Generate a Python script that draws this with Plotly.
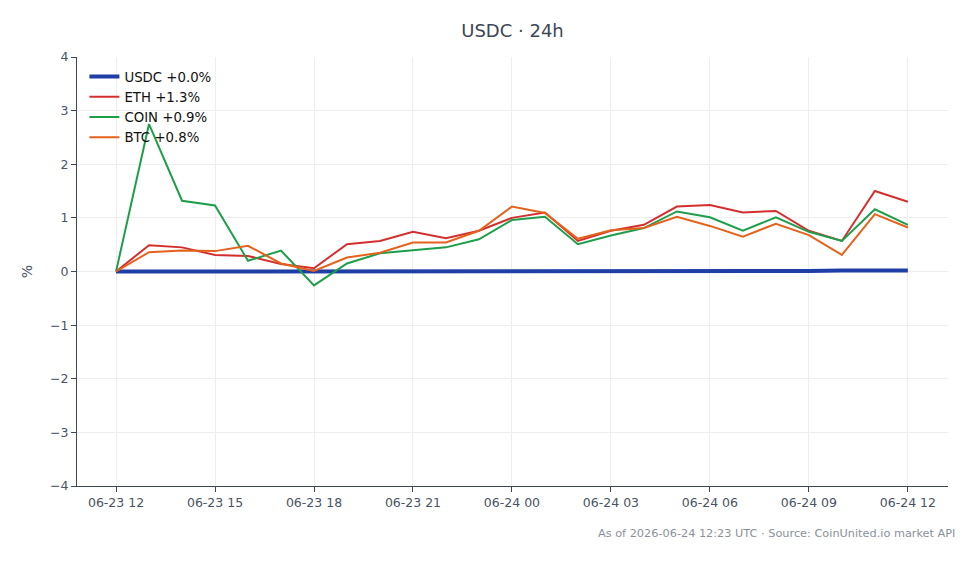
import plotly.graph_objects as go
import pandas as pd

times = pd.date_range("2026-06-23 12:00", "2026-06-24 12:00", freq="h")

usdc = [0.0]*20 + [0.0, 0.01, 0.02, 0.02, 0.02]
eth = [0.0, 0.49, 0.45, 0.31, 0.29, 0.14, 0.06, 0.51, 0.57, 0.74, 0.62, 0.76, 1.00,
       1.10, 0.57, 0.76, 0.87, 1.21, 1.24, 1.10, 1.13, 0.76, 0.57, 1.50, 1.30]
coin = [0.0, 2.75, 1.32, 1.23, 0.20, 0.39, -0.26, 0.15, 0.34, 0.40, 0.45, 0.60, 0.96,
        1.02, 0.51, 0.67, 0.81, 1.12, 1.01, 0.76, 1.01, 0.74, 0.57, 1.16, 0.87]
btc = [0.0, 0.36, 0.39, 0.38, 0.48, 0.15, 0.01, 0.26, 0.35, 0.54, 0.54, 0.76, 1.21,
       1.09, 0.61, 0.77, 0.81, 1.02, 0.85, 0.65, 0.89, 0.68, 0.31, 1.07, 0.82]

names = ["USDC +0.0%", "ETH +1.3%", "COIN +0.9%", "BTC +0.8%"]
colors = ["#1f3fa6", "#d32f2f", "#1e9e4a", "#e4621b"]
widths = [4, 2, 2, 2]
series = [usdc, eth, coin, btc]

tickvals = pd.date_range("2026-06-23 12:00", "2026-06-24 12:00", freq="3h")
ticktext = [t.strftime("%m-%d %H") for t in tickvals]
yticks = [-4, -3, -2, -1, 0, 1, 2, 3, 4]

fig = go.Figure()
for n, c, w, s in zip(names, colors, widths, series):
    fig.add_trace(go.Scatter(x=times, y=s, mode="lines", name=n,
                             line=dict(color=c, width=w)))

fig.add_shape(type="line", xref="paper", yref="y", x0=0, x1=1, y0=0, y1=0,
              line=dict(color="#9aa3b5", width=1, dash="dash"), layer="below")

axcol = "#3d4756"
fig.update_layout(
    width=980, height=564,
    margin=dict(l=77, r=32, t=57, b=78),
    paper_bgcolor="white", plot_bgcolor="white",
    font=dict(family="DejaVu Sans", size=12, color="#4a5363"),
    title=dict(text="USDC · 24h", x=0.5, xref="paper", xanchor="center", y=0.945,
               yanchor="middle", font=dict(size=18, color="#3d4756")),
    legend=dict(x=0.0085, y=0.99, xanchor="left", yanchor="top",
                bgcolor="rgba(255,255,255,0)", font=dict(size=13.3, color="#111"),
                itemwidth=30, tracegroupgap=0),
    showlegend=True,
)
fig.update_xaxes(
    range=[pd.Timestamp("2026-06-23 10:49"), pd.Timestamp("2026-06-24 13:13")],
    tickvals=tickvals, ticktext=ticktext,
    showgrid=True, gridcolor="#eceef2", gridwidth=1,
    showline=True, linecolor=axcol, linewidth=1,
    ticks="outside", tickcolor=axcol, ticklen=5,
    zeroline=False, tickfont=dict(size=12.5),
)
fig.update_yaxes(
    range=[-4, 4], tickvals=yticks,
    showgrid=True, gridcolor="#eceef2", gridwidth=1,
    showline=True, linecolor=axcol, linewidth=1,
    ticks="outside", tickcolor=axcol, ticklen=5,
    zeroline=False, tickfont=dict(size=12.5),
    title=dict(text="%", font=dict(size=14), standoff=14),
)
fig.add_annotation(text="As of 2026-06-24 12:23 UTC · Source: CoinUnited.io market API",
                   xref="paper", yref="paper", x=1.0 + 9/871, y=-0.11, xanchor="right",
                   yanchor="middle", showarrow=False,
                   font=dict(size=11.3, color="#8a919c"))

fig.write_html("out.html")
